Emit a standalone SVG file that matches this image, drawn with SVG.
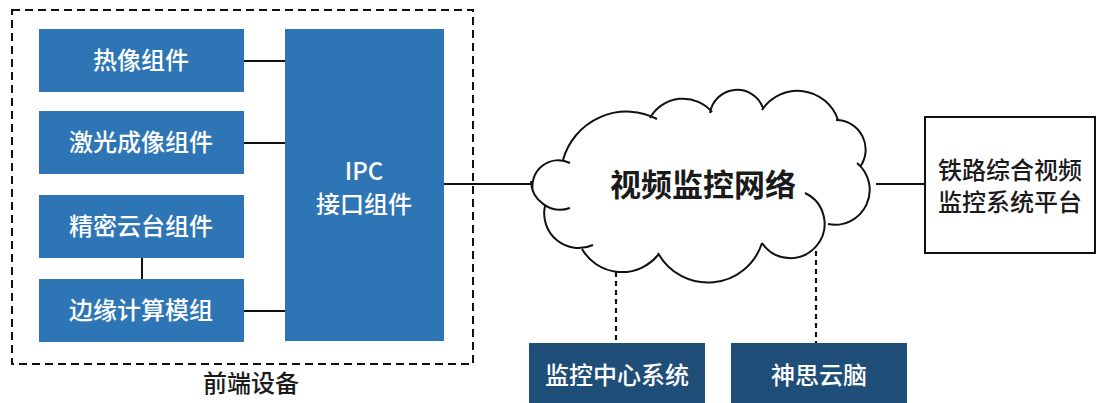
<svg xmlns="http://www.w3.org/2000/svg" width="1096" height="403" viewBox="0 0 1096 403">
<style>
text{font-family:"Noto Sans CJK SC","Noto Sans",sans-serif;text-anchor:middle}
.blue{fill:#2e75b6}
.dark{fill:#1f4e79}
.wt{fill:#ffffff;font-size:24px;font-weight:500}
.bt{fill:#1a1a1a;font-size:24px;font-weight:500}
.ln{stroke:#111;stroke-width:2;fill:none}
.dash{stroke:#111;stroke-width:2.2;fill:none;stroke-dasharray:5 4}
</style>
<rect width="1096" height="403" fill="#ffffff"/>
<g id="frontend-group">
<rect x="12" y="10" width="461" height="354" fill="none" stroke="#111" stroke-width="2" stroke-dasharray="8 5"/>
<text class="bt" x="251" y="392">前端设备</text>
</g>
<g id="connectors">
<line class="ln" x1="244" y1="61" x2="285" y2="61"/>
<line class="ln" x1="244" y1="143" x2="285" y2="143"/>
<line class="ln" x1="244" y1="311" x2="285" y2="311"/>
<line class="ln" x1="142" y1="258" x2="142" y2="279"/>
<line class="ln" x1="444" y1="184" x2="532" y2="184"/>
<line class="ln" x1="876" y1="184" x2="925" y2="184"/>
<line class="dash" x1="616" y1="272" x2="616" y2="343"/>
<line class="dash" x1="816" y1="251" x2="816" y2="343"/>
</g>
<g id="thermal">
<rect class="blue" x="39" y="29" width="205" height="63"/>
<text class="wt" x="141" y="69">热像组件</text>
</g>
<g id="laser">
<rect class="blue" x="39" y="111" width="205" height="63"/>
<text class="wt" x="141" y="151">激光成像组件</text>
</g>
<g id="ptz">
<rect class="blue" x="39" y="195" width="205" height="63"/>
<text class="wt" x="141" y="235">精密云台组件</text>
</g>
<g id="edge">
<rect class="blue" x="39" y="279" width="205" height="63"/>
<text class="wt" x="141" y="319">边缘计算模组</text>
</g>
<g id="ipc">
<rect class="blue" x="285" y="29" width="159" height="312"/>
<text class="wt" x="364" y="180">IPC</text>
<text class="wt" x="364" y="213">接口组件</text>
</g>
<g id="cloud">
<path class="ln" stroke-width="2.2" d="M533,192 A26,26 0 0 1 570,163 M563,160 A66,66 0 0 1 657,119 M650,118 A38,38 0 0 1 712,112 M710,113 A27.5,27.5 0 0 1 763,108 M762,110 A42.6,42.6 0 0 1 838,120 M836,120 A29.6,29.6 0 0 1 860,167 M857,163 A34.8,34.8 0 0 1 828,224 M805,193 A34.2,34.2 0 1 1 762,243 M762,243 A56.8,56.8 0 0 1 658,253 M658,255 A46.3,46.3 0 0 1 582,249 M593,245 A34.6,34.6 0 0 1 545,206 M570,208 A29.4,29.4 0 0 1 531,181"/>
<text x="703" y="196" style="font-size:31px;font-weight:700;fill:#1a1a1a">视频监控网络</text>
</g>
<g id="platform">
<rect x="925" y="117" width="170" height="136" fill="#ffffff" stroke="#111" stroke-width="2"/>
<text class="bt" x="1010" y="179">铁路综合视频</text>
<text class="bt" x="1010" y="211">监控系统平台</text>
</g>
<g id="monitor-center">
<rect class="dark" x="529" y="343" width="176" height="62"/>
<text class="wt" x="617" y="384">监控中心系统</text>
</g>
<g id="shensi">
<rect class="dark" x="731" y="343" width="176" height="62"/>
<text class="wt" x="819" y="384">神思云脑</text>
</g>
</svg>
